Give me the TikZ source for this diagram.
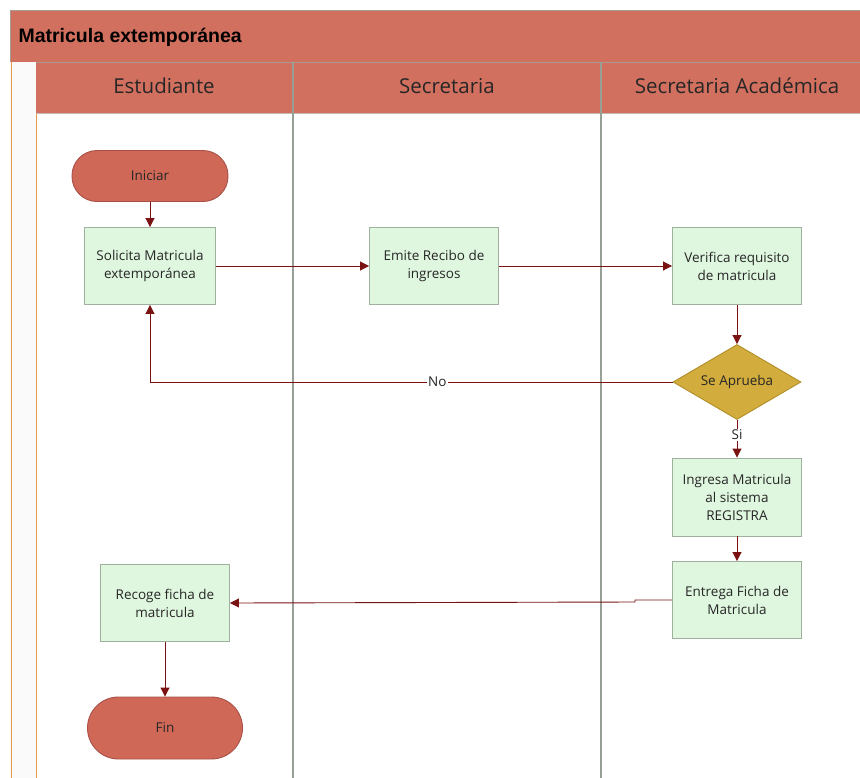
\documentclass[tikz,border=0pt]{standalone}
\usepackage{fontspec}
\setmainfont{Open Sans}
\newfontfamily\titlefont{Liberation Sans}
\usetikzlibrary{shapes.geometric,arrows.meta}
\definecolor{hdr}{HTML}{D2705F}
\definecolor{hdrline}{HTML}{A89A90}
\definecolor{lanegray}{RGB}{150,160,150}
\definecolor{term}{HTML}{D06858}
\definecolor{termline}{HTML}{A85048}
\definecolor{boxfill}{HTML}{DFF6DF}
\definecolor{boxline}{HTML}{9FB09F}
\definecolor{dia}{HTML}{D2AC3C}
\definecolor{dialine}{HTML}{B08F2A}
\definecolor{arr}{HTML}{7A1212}
\definecolor{strip}{HTML}{E89A48}
\tikzset{
  proc/.style={rectangle, draw=boxline, line width=0.9pt, fill=boxfill, minimum width=129pt, minimum height=77pt, align=center, font=\fontsize{13.5}{18}\selectfont, text=black!85},
  termnode/.style={rectangle, rounded corners=25pt, draw=termline, line width=0.9pt, fill=term, minimum width=156pt, minimum height=51pt, font=\fontsize{13.5}{17}\selectfont, text=black!85},
  decision/.style={diamond, aspect=1.7, draw=dialine, line width=0.9pt, fill=dia, minimum width=128pt, minimum height=75pt, inner sep=0pt, font=\fontsize{13.5}{17}\selectfont, text=black!85},
  flow/.style={draw=arr, line width=0.9pt, -{Triangle[length=9pt,width=9pt]}},
  lanelbl/.style={font=\fontsize{20.5}{24}\selectfont, text=black!85},
  edgelbl/.style={fill=white, inner sep=1pt, font=\fontsize{13.5}{16}\selectfont, text=black!85},
  laneedge/.style={draw=lanegray, line width=1.2pt}
}
\begin{document}
\begin{tikzpicture}[x=1pt,y=-1pt]
\useasboundingbox (0,0) rectangle (860,777);
\clip (0,0) rectangle (860,777);
% title band
\fill[hdr] (10,10) rectangle (870,62);
\draw[hdrline, line width=0.8pt] (10,62) -- (10,10) -- (870,10);
\node[anchor=west, font=\titlefont\bfseries\fontsize{19.5}{22}\selectfont] (title) at (15,37) {Matricula extempor\'anea};
% left strip
\fill[black!2] (10,62) rectangle (36,790);
\draw[strip, line width=1pt] (11,62) -- (11,790);
\draw[strip, line width=1pt] (36,62) -- (36,790);
% lane headers
\fill[hdr] (36,62) rectangle (870,113);
\draw[hdrline, line width=0.8pt] (36,62) -- (870,62);
\draw[hdrline!70, line width=0.8pt] (36,113) -- (870,113);
% lane lines
\coordinate (s1t) at (293,62);
\coordinate (s1b) at (293,790);
\coordinate (s2t) at (601,62);
\coordinate (s2b) at (601,790);
\draw[laneedge] (s1t) -- (s1b);
\draw[laneedge] (s2t) -- (s2b);
\node[lanelbl] (l1) at (164,86) {Estudiante};
\node[lanelbl] (l2) at (447,86) {Secretaria};
\node[lanelbl] (l3) at (737,86) {Secretaria Acad\'emica};
% nodes
\node[termnode] (ini) at (150,176) {Iniciar};
\node[proc, minimum width=131pt] (sol) at (150,266) {Solicita Matricula\\extempor\'anea};
\node[proc] (emi) at (434,266) {Emite Recibo de\\ingresos};
\node[proc] (ver) at (737,266) {Verifica requisito\\de matricula};
\node[decision] (apr) at (737,382) {Se Aprueba};
\node[proc, minimum height=78pt] (ing) at (737,497) {Ingresa Matricula\\al sistema\\REGISTRA};
\node[proc] (ent) at (737,600) {Entrega Ficha de\\Matricula};
\node[proc] (rec) at (165,603) {Recoge ficha de\\matricula};
\node[termnode, minimum width=155pt, minimum height=62pt, rounded corners=31pt] (fin) at (165,728) {Fin};
% connectors
\draw[flow] (ini) -- (sol);
\draw[flow] (sol) -- (emi);
\draw[flow] (emi) -- (ver);
\draw[flow] (ver) -- (apr);
\draw[flow] (apr.west) -- node[edgelbl, pos=0.45] {No} (150,382) -- (sol.south);
\draw[flow] (apr.south) -- node[edgelbl, pos=0.4] {Si} (ing.north);
\draw[flow] (ing) -- (ent);
\draw[flow] (ent.west) -- (635,600) -- (635,602) -- (rec.east);
\draw[flow] (rec) -- (fin);
\end{tikzpicture}
\end{document}
